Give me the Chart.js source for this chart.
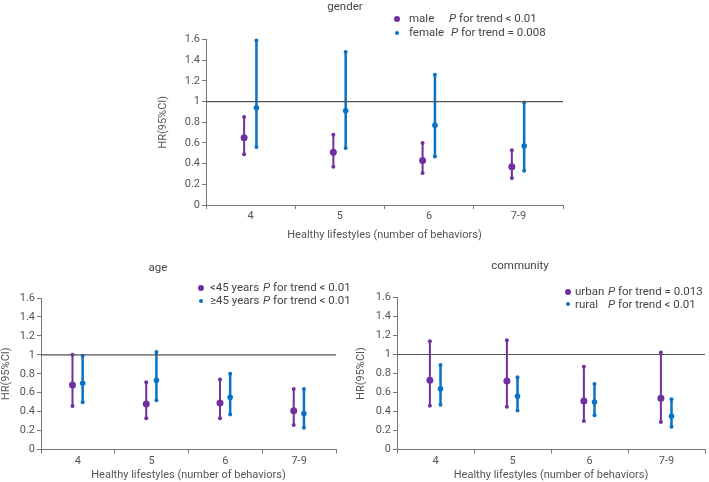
<!DOCTYPE html>
<html lang="en">
<head>
<meta charset="UTF-8">
<title>Healthy lifestyles and HR by subgroup</title>
<script src="https://cdn.jsdelivr.net/npm/chart.js"></script>
<style>
  body { margin: 0; background: #fff; font-family: Roboto, sans-serif; }
  #wrap { position: relative; width: 709px; height: 482px; overflow: hidden; background: #fff; }
  canvas { position: absolute; }
  .txt { position: absolute; color: #444; font-size: 11.5px; line-height: 13px; white-space: nowrap; }
  .ttl { transform: translateX(-50%); }
  .dot { position: absolute; border-radius: 50%; }
</style>
</head>
<body>
<div id="wrap">
  <canvas id="gender" width="430" height="242" style="left:150px;top:0px"></canvas>
  <canvas id="age" width="345" height="232" style="left:0px;top:250px"></canvas>
  <canvas id="community" width="354" height="232" style="left:355px;top:250px"></canvas>

  <div class="txt ttl" style="left:345px;top:0px">gender</div>
  <span class="dot" style="left:394px;top:16px;width:6px;height:6px;background:#7030a0"></span>
  <div class="txt" style="left:409px;top:12px">male</div>
  <div class="txt" style="left:449px;top:12px"><i>P</i> for trend &lt; 0.01</div>
  <span class="dot" style="left:395px;top:31px;width:4px;height:4px;background:#0a72c6"></span>
  <div class="txt" style="left:409px;top:26px">female</div>
  <div class="txt" style="left:451px;top:26px"><i>P</i> for trend = 0.008</div>

  <div class="txt ttl" style="left:158px;top:261px">age</div>
  <span class="dot" style="left:198px;top:285px;width:6px;height:6px;background:#7030a0"></span>
  <div class="txt" style="left:210px;top:281px">&lt;45 years</div>
  <div class="txt" style="left:263px;top:281px"><i>P</i> for trend &lt; 0.01</div>
  <span class="dot" style="left:199px;top:299px;width:4px;height:4px;background:#0a72c6"></span>
  <div class="txt" style="left:210px;top:294px">≥45 years</div>
  <div class="txt" style="left:263px;top:294px"><i>P</i> for trend &lt; 0.01</div>

  <div class="txt ttl" style="left:520px;top:259px">community</div>
  <span class="dot" style="left:565px;top:289px;width:6px;height:6px;background:#7030a0"></span>
  <div class="txt" style="left:575px;top:285px">urban</div>
  <div class="txt" style="left:608px;top:285px"><i>P</i> for trend = 0.013</div>
  <span class="dot" style="left:566px;top:302px;width:4px;height:4px;background:#0a72c6"></span>
  <div class="txt" style="left:575px;top:298px">rural</div>
  <div class="txt" style="left:608px;top:298px"><i>P</i> for trend &lt; 0.01</div>
</div>

<script>
  // categories on the x axis
  const categories = ['4', '5', '6', '7-9'];

  // gender panel
  const maleHR = [0.65, 0.51, 0.43, 0.37];
  const maleLow = [0.49, 0.37, 0.31, 0.26];
  const maleHigh = [0.85, 0.68, 0.60, 0.53];
  const femaleHR = [0.94, 0.91, 0.77, 0.57];
  const femaleLow = [0.56, 0.55, 0.47, 0.33];
  const femaleHigh = [1.59, 1.48, 1.26, 0.99];

  // age panel
  const under45HR = [0.68, 0.48, 0.49, 0.41];
  const under45Low = [0.46, 0.33, 0.33, 0.26];
  const under45High = [1.00, 0.71, 0.74, 0.64];
  const over45HR = [0.70, 0.73, 0.55, 0.38];
  const over45Low = [0.50, 0.52, 0.37, 0.23];
  const over45High = [0.99, 1.03, 0.80, 0.64];

  // community panel
  const urbanHR = [0.73, 0.72, 0.51, 0.54];
  const urbanLow = [0.46, 0.45, 0.30, 0.29];
  const urbanHigh = [1.14, 1.15, 0.87, 1.02];
  const ruralHR = [0.64, 0.56, 0.50, 0.35];
  const ruralLow = [0.47, 0.41, 0.36, 0.24];
  const ruralHigh = [0.89, 0.76, 0.69, 0.53];

  const yTicks = { min: 0, max: 1.6, step: 0.2 };
  const refValue = 1;

  const PURPLE = '#7030a0';
  const BLUE = '#0a72c6';
  const AXIS = '#777';
  const TEXT = '#555';
  const font = { family: 'Roboto, sans-serif', size: 11 };

  function whisker(lo, hi, off) {
    const pts = [];
    lo.forEach((v, i) => {
      const x = i + 0.5 + off;
      pts.push({ x: x, y: lo[i] }, { x: x, y: hi[i] }, { x: x, y: null });
    });
    return pts;
  }

  function centers(hr, off) {
    return hr.map((v, i) => ({ x: i + 0.5 + off, y: v }));
  }

  function panel(id, series, box) {
    const datasets = [{
      type: 'line',
      data: [{ x: 0, y: refValue }, { x: categories.length, y: refValue }],
      borderColor: '#555', borderWidth: 1.2, pointRadius: 0,
      xAxisID: 'xv', clip: false
    }];
    series.forEach(s => {
      datasets.push({
        type: 'line', data: whisker(s.lo, s.hi, s.off),
        borderColor: s.color, backgroundColor: s.color, borderWidth: s.lw,
        pointRadius: s.cap, pointBorderWidth: 0, pointBackgroundColor: s.color,
        spanGaps: false, xAxisID: 'xv', clip: false
      });
      datasets.push({
        type: 'scatter', data: centers(s.hr, s.off),
        backgroundColor: s.color, borderColor: s.color, borderWidth: 0,
        pointRadius: s.r, xAxisID: 'xv', clip: false
      });
    });

    new Chart(document.getElementById(id), {
      type: 'line',
      data: { labels: categories, datasets: datasets },
      options: {
        responsive: false,
        animation: false,
        layout: { padding: box.pad },
        plugins: { legend: { display: false }, tooltip: { enabled: false } },
        scales: {
          x: {
            type: 'category', offset: true,
            grid: { offset: true, drawOnChartArea: false, tickLength: 4, color: AXIS },
            border: { color: AXIS },
            ticks: { font: font, color: TEXT, padding: 1 },
            title: { display: true, text: 'Healthy lifestyles (number of behaviors)', font: font, color: TEXT, padding: 0 },
            afterFit: sc => { sc.height = box.xh; }
          },
          xv: { type: 'linear', min: 0, max: categories.length, display: false },
          y: {
            min: yTicks.min, max: yTicks.max,
            ticks: { stepSize: yTicks.step, font: font, color: TEXT, padding: 2, callback: v => +v.toFixed(1) },
            grid: { drawOnChartArea: false, tickLength: 4, color: AXIS },
            border: { color: AXIS },
            title: { display: true, text: 'HR(95%CI)', font: font, color: TEXT, padding: 0 },
            afterFit: sc => { sc.width = box.yw; }
          }
        }
      }
    });
  }

  const OFF_A = -0.073, OFF_B = 0.065;

  panel('gender', [
    { hr: maleHR, lo: maleLow, hi: maleHigh, off: OFF_A, color: PURPLE, lw: 2, cap: 2, r: 3.5 },
    { hr: femaleHR, lo: femaleLow, hi: femaleHigh, off: OFF_B, color: BLUE, lw: 2.5, cap: 2, r: 2.8 }
  ], { pad: { top: 39.5, right: 17, left: 7, bottom: 0 }, yw: 49, xh: 37 });

  panel('age', [
    { hr: under45HR, lo: under45Low, hi: under45High, off: OFF_A, color: PURPLE, lw: 2, cap: 2, r: 3.5 },
    { hr: over45HR, lo: over45Low, hi: over45High, off: OFF_B, color: BLUE, lw: 2.5, cap: 2, r: 2.8 }
  ], { pad: { top: 48, right: 9, left: 0, bottom: 0 }, yw: 41, xh: 32.5 });

  panel('community', [
    { hr: urbanHR, lo: urbanLow, hi: urbanHigh, off: OFF_A, color: PURPLE, lw: 2, cap: 2, r: 3.5 },
    { hr: ruralHR, lo: ruralLow, hi: ruralHigh, off: OFF_B, color: BLUE, lw: 2.5, cap: 2, r: 2.8 }
  ], { pad: { top: 47.5, right: 4, left: 0, bottom: 0 }, yw: 42, xh: 32.5 });
</script>
</body>
</html>
